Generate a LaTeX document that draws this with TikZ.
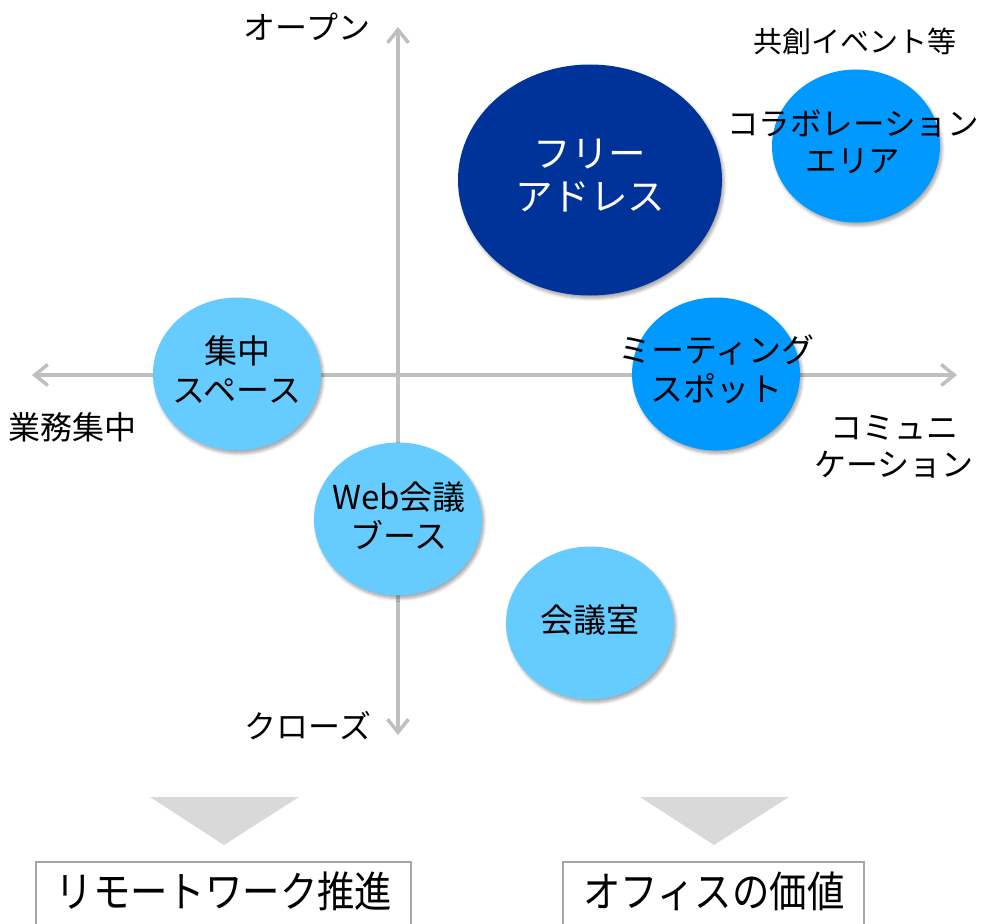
\documentclass[tikz,border=0pt]{standalone}
\usepackage{fontspec}
\setmainfont{Noto Sans CJK JP}
\newfontfamily\cjkn[FakeStretch=0.88]{Noto Sans CJK JP}
\usetikzlibrary{arrows.meta,shapes.geometric,shadows.blur}
\definecolor{darkb}{HTML}{003399}
\definecolor{midb}{HTML}{0099FF}
\definecolor{lightb}{HTML}{66CCFF}
\definecolor{axisgray}{HTML}{BFBFBF}
\definecolor{trigray}{HTML}{D9D9D9}
\definecolor{boxgray}{HTML}{A6A6A6}
\tikzset{
  axis/.style={draw=axisgray, line width=3.5pt, {Straight Barb[length=13pt,width=21pt]}-{Straight Barb[length=13pt,width=21pt]}},
  bubble/.style={ellipse, inner sep=0pt, draw=none, minimum width=168pt, minimum height=153pt,
    blur shadow={shadow xshift=2pt, shadow yshift=-3pt, shadow blur steps=6, shadow blur radius=3pt, shadow opacity=35}},
  bigbubble/.style={bubble, minimum width=264pt, minimum height=231pt},
  txt/.style={align=center, inner sep=0pt, font=\fontsize{33}{39}\selectfont, text=black},
  bigtxt/.style={align=center, inner sep=0pt, font=\fontsize{37.5}{43}\selectfont, text=white},
  axlabel/.style={align=center, inner sep=0pt, font=\fontsize{32}{37}\selectfont, text=black},
  smalllabel/.style={inner sep=0pt, font=\fontsize{29}{32}\selectfont, text=black},
  tri/.style={fill=trigray, draw=none},
  resbox/.style={draw=boxgray, line width=1.5pt, fill=white},
  restxt/.style={inner sep=0pt, font=\cjkn\fontsize{42.5}{46}\selectfont, text=black},
}
\begin{document}
\begin{tikzpicture}[x=1pt,y=-1pt]
\useasboundingbox (0,0) rectangle (984,923);
% axes
\coordinate (vtop) at (398,27);
\coordinate (vbot) at (398,735);
\coordinate (hleft) at (32,375);
\coordinate (hright) at (957,375);
\draw[axis] (vbot) -- (vtop);
\draw[axis] (hleft) -- (hright);
% axis labels
\node[axlabel] (open) at (307,27) {オープン};
\node[axlabel] (close) at (308,726) {クローズ};
\node[axlabel] (focus) at (73,427) {業務集中};
\node[axlabel] (comm) at (894,447) {コミュニ\\ケーション};
\node[smalllabel] (event) at (855,41) {共創イベント等};
% bubbles
\node[bigbubble, fill=darkb] (free) at (590,180) {};
\node[bubble, fill=midb] (collab) at (856,146) {};
\node[bubble, fill=midb] (meet) at (716,374) {};
\node[bubble, fill=lightb] (conc) at (237,374) {};
\node[bubble, fill=lightb] (web) at (398,519) {};
\node[bubble, fill=lightb] (room) at (590,623) {};
% bubble texts
\node[bigtxt] (freet) at (590,176) {フリー\\アドレス};
\node[txt, font=\fontsize{31.5}{37}\selectfont] (collabt) at (853,142) {コラボレーション\\エリア};
\node[txt] (meett) at (716,369) {ミーティング\\スポット};
\node[txt] (conct) at (237,370) {集中\\スペース};
\node[txt] (webt) at (399,516) {Web会議\\ブース};
\node[txt] (roomt) at (590,620) {会議室};
% triangles
\fill[tri] (150,797) -- (299,797) -- (224,845) -- cycle;
\fill[tri] (640,797) -- (789,797) -- (714,845) -- cycle;
% result boxes
\draw[resbox] (36,862) rectangle (411,940);
\draw[resbox] (563,862) rectangle (864,940);
\node[restxt] (remote) at (224,891) {リモートワーク推進};
\node[restxt] (value) at (714,891) {オフィスの価値};
\end{tikzpicture}
\end{document}
